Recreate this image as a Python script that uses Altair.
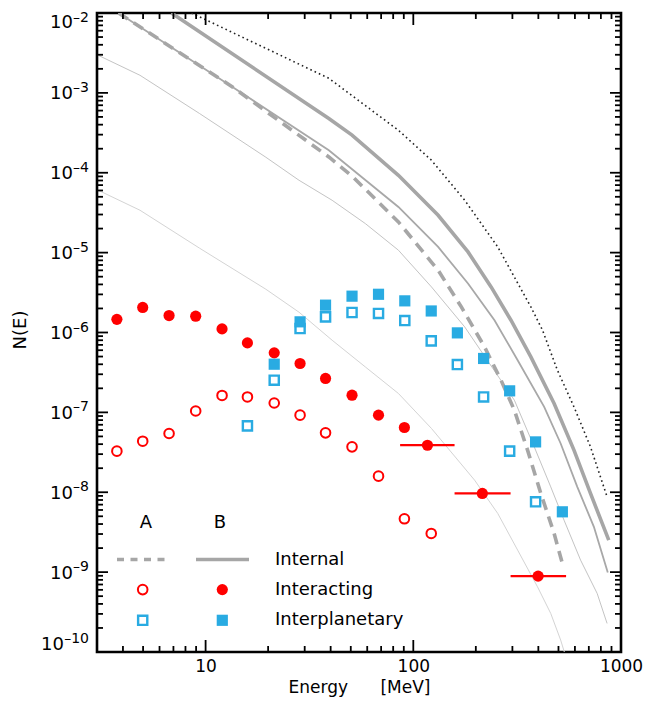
import altair as alt
import pandas as pd

# ---------------- values ----------------
# model curves (energy in MeV, N(E))
dot_E = [8.55, 39.2, 84.8, 122.3, 176.8, 255.0, 368.1, 418.8, 494.0, 593.7, 713.1, 857.0]
dot_N = [1.0e-2, 1.523e-3, 3.403e-4, 1.434e-4, 4.525e-5, 1.178e-5, 2.091e-6, 1.07e-6,
         3.375e-7, 1.172e-7, 3.701e-8, 8.758e-9]

intB_E = [6.85, 39.2, 50.7, 84.8, 131.7, 183.4, 236.9, 295.3, 368.1, 476.4, 593.7, 713.1, 873.2]
intB_N = [1.0e-2, 4.769e-4, 2.96e-4, 9.30e-5, 2.938e-5, 1.021e-5, 3.721e-6, 1.425e-6,
          4.951e-7, 1.293e-7, 3.364e-8, 9.66e-9, 2.515e-9]

med_E = [3.81, 13.47, 39.2, 84.8, 131.7, 183.4, 246.0, 318.0, 426.7, 512.3, 616.0, 740.4, 863.7]
med_N = [1.0e-2, 1.186e-3, 1.912e-4, 3.733e-5, 1.178e-5, 4.105e-6, 1.425e-6, 4.499e-7,
         1.172e-7, 4.08e-8, 1.168e-8, 3.69e-9, 9.91e-10]

intA_E = [3.81, 13.47, 39.2, 50.7, 84.8, 131.7, 170.3, 220.3, 264.5, 306.6, 354.9, 411.1, 476.4, 522.0]
intA_N = [1.0e-2, 1.186e-3, 1.576e-4, 9.1e-5, 2.422e-5, 6.02e-6, 2.091e-6, 6.60e-7,
          2.53e-7, 1.065e-7, 3.364e-8, 9.66e-9, 3.05e-9, 1.285e-9]

thin1_E = [3.04, 4.83, 9.36, 19.51, 28.17, 40.65, 58.73, 84.8, 122.3, 176.8, 306.6, 382.2,
           458.9, 531.8, 638.9, 767.8, 857.0]
thin1_N = [2.955e-3, 1.661e-3, 5.506e-4, 1.563e-4, 8.05e-5, 4.525e-5, 2.313e-5, 1.072e-5,
           3.721e-6, 1.175e-6, 1.421e-7, 3.701e-8, 1.168e-8, 4.475e-9, 1.413e-9, 5.41e-10, 2.28e-10]

thin2_E = [3.04, 4.83, 9.36, 19.51, 28.17, 40.65, 58.73, 84.8, 122.3, 197.3, 255.0, 318.0,
           396.3, 458.9, 512.3, 533.7]
thin2_N = [6.04e-5, 3.394e-5, 1.135e-5, 3.48e-6, 1.795e-6, 8.01e-7, 3.71e-7, 1.724e-7,
           6.29e-8, 1.417e-8, 5.43e-9, 1.885e-9, 6.55e-10, 3.04e-10, 1.41e-10, 9.97e-11]

# interacting (red circles)
red_E = [3.74, 4.98, 6.67, 8.96, 12.0, 15.9, 21.4, 28.5, 37.8, 50.7, 68.0, 90.6]
redB_N = [1.46e-6, 2.06e-6, 1.63e-6, 1.60e-6, 1.11e-6, 7.41e-7, 5.56e-7, 4.09e-7,
          2.66e-7, 1.64e-7, 9.23e-8, 6.47e-8]
redB_bin_E = [117, 215, 399]
redB_bin_N = [3.88e-8, 9.66e-9, 8.91e-10]
redB_bin_lo = [86.4, 158, 294]
redB_bin_hi = [158, 294, 544]

redA_E = [3.74, 4.98, 6.67, 8.96, 12.0, 15.9, 21.4, 28.5, 37.8, 50.7, 68.0, 90.6, 122]
redA_N = [3.27e-8, 4.36e-8, 5.44e-8, 1.04e-7, 1.63e-7, 1.56e-7, 1.31e-7, 9.23e-8,
          5.54e-8, 3.70e-8, 1.59e-8, 4.65e-9, 3.05e-9]

# interplanetary (blue squares)
bluA_E = [15.9, 21.4, 28.5, 37.8, 50.7, 68.0, 91.0, 122, 163, 218, 291, 388]
bluA_N = [6.78e-8, 2.53e-7, 1.12e-6, 1.57e-6, 1.78e-6, 1.73e-6, 1.41e-6, 7.85e-7,
          3.97e-7, 1.56e-7, 3.27e-8, 7.59e-9]
bluB_E = [21.4, 28.5, 37.8, 50.7, 68.0, 91.0, 122, 163, 218, 291, 388, 522]
bluB_N = [4.01e-7, 1.36e-6, 2.20e-6, 2.85e-6, 3.01e-6, 2.49e-6, 1.86e-6, 9.89e-7,
          4.73e-7, 1.86e-7, 4.27e-8, 5.69e-9]

# axes
x_labels = [10, 100, 1000]
x_major = [10, 100]
x_minor = [4, 5, 6, 7, 8, 9, 20, 30, 40, 50, 60, 70, 80, 90,
           200, 300, 400, 500, 600, 700, 800, 900]
y_decades = [1e-10, 1e-9, 1e-8, 1e-7, 1e-6, 1e-5, 1e-4, 1e-3, 1e-2]
y_exponents = ["–10", "–9", "–8", "–7", "–6", "–5", "–4", "–3", "–2"]
y_major = [1e-9, 1e-8, 1e-7, 1e-6, 1e-5, 1e-4, 1e-3]
y_mult = [2, 3, 4, 5, 6, 7, 8, 9]
y_minor = [m * d for d in y_decades[:-1] for m in y_mult]

legend_heads = ["A", "B"]
legend_labels = ["Internal", "Interacting", "Interplanetary"]

# ---------------- chart ----------------
W, H = 524, 639
FONT = "DejaVu Sans"
RED = "#ff0000"
BLUE = "#29abe2"

xscale = alt.Scale(type="log", domain=[3, 1000], nice=False)
yscale = alt.Scale(type="log", domain=[1e-10, 1e-2], nice=False)

xaxis = alt.Axis(values=x_labels, format="d", ticks=False, tickSize=0, domain=False, grid=False,
                 labelFont=FONT, labelFontSize=17, labelColor="black", labelPadding=6,
                 labelFlush=False,
                 title="Energy\u00a0\u00a0\u00a0\u00a0\u00a0\u00a0[MeV]", titleFont=FONT,
                 titleFontSize=17, titleFontWeight="normal", titleColor="black",
                 titleX=W / 2, titleY=35, titleBaseline="middle", titleAlign="center")
yaxis = alt.Axis(values=y_decades, ticks=False, tickSize=0, domain=False, grid=False,
                 labels=False,
                 title="N(E)", titleFont=FONT, titleFontSize=18, titleFontWeight="normal",
                 titleColor="black", titleAngle=270, titleX=-77, titleY=H / 2 - 3,
                 titleBaseline="middle", titleAlign="center")


def X(field="E"):
    return alt.X(f"{field}:Q", scale=xscale, axis=xaxis, title="Energy")


def Y(field="N"):
    return alt.Y(f"{field}:Q", scale=yscale, axis=yaxis, title="N(E)")


def curve(E, N, **style):
    df = pd.DataFrame({"E": E, "N": N})
    return alt.Chart(df).mark_line(clip=True, **style).encode(x=X(), y=Y())


layers = []
layers.append(curve(thin2_E, thin2_N, color="#d4d4d4", strokeWidth=1))
layers.append(curve(thin1_E, thin1_N, color="#c4c4c4", strokeWidth=1))
layers.append(curve(med_E, med_N, color="#a8a8a8", strokeWidth=1.8))
layers.append(curve(intB_E, intB_N, color="#a6a6a6", strokeWidth=3.6))
layers.append(curve(intA_E, intA_N, color="#a6a6a6", strokeWidth=3.6, strokeDash=[11, 7]))
layers.append(curve(dot_E, dot_N, color="#222222", strokeWidth=1.6, strokeDash=[1.6, 3.1]))

# data points
layers.append(alt.Chart(pd.DataFrame({"E": redA_E, "N": redA_N})).mark_point(
    shape="circle", filled=False, color=RED, strokeWidth=2, size=92, opacity=1
).encode(x=X(), y=Y()))
layers.append(alt.Chart(pd.DataFrame({"E": redB_bin_E, "N": redB_bin_N,
                                      "lo": redB_bin_lo, "hi": redB_bin_hi})).mark_rule(
    color=RED, strokeWidth=2.2
).encode(x=alt.X("lo:Q", scale=xscale, axis=xaxis, title="Energy"), x2="hi:Q", y=Y()))
layers.append(alt.Chart(pd.DataFrame({"E": red_E + redB_bin_E, "N": redB_N + redB_bin_N})).mark_circle(
    color=RED, size=125, opacity=1
).encode(x=X(), y=Y()))
layers.append(alt.Chart(pd.DataFrame({"E": bluA_E, "N": bluA_N})).mark_point(
    shape="square", filled=False, color=BLUE, strokeWidth=2.4, size=84, opacity=1
).encode(x=X(), y=Y()))
layers.append(alt.Chart(pd.DataFrame({"E": bluB_E, "N": bluB_N})).mark_square(
    color=BLUE, size=125, opacity=1
).encode(x=X(), y=Y()))


# inward ticks on all four sides
def yticks(vals, length):
    df = pd.DataFrame({"N": vals})
    left = alt.Chart(df).mark_rule(color="black", strokeWidth=1.8).encode(
        y=Y(), x=alt.value(0), x2=alt.value(length))
    right = alt.Chart(df).mark_rule(color="black", strokeWidth=1.8).encode(
        y=Y(), x=alt.value(W), x2=alt.value(W - length))
    return [left, right]


def xticks(vals, length):
    df = pd.DataFrame({"E": vals})
    bottom = alt.Chart(df).mark_rule(color="black", strokeWidth=1.8).encode(
        x=X(), y=alt.value(H), y2=alt.value(H - length))
    top = alt.Chart(df).mark_rule(color="black", strokeWidth=1.8).encode(
        x=X(), y=alt.value(0), y2=alt.value(length))
    return [bottom, top]


layers += yticks(y_minor, 6) + yticks(y_major, 11) + xticks(x_minor, 6) + xticks(x_major, 12)

# y tick labels as 10 with a raised exponent
ylab = pd.DataFrame({"N": y_decades, "exp": y_exponents})
groups = [
    (ylab.iloc[1:8], -24, 6.5, -1),     # middle decades
    (ylab.iloc[8:9], -24, 14.5, 8.5),   # top label, kept inside
    (ylab.iloc[0:1], -33, -1.7, -9),    # bottom label, kept inside
]
for df, xb, dyb, dye in groups:
    layers.append(alt.Chart(df).mark_text(
        text="10", font=FONT, fontSize=18, color="black", align="right",
        baseline="alphabetic", dy=dyb
    ).encode(y=Y(), x=alt.value(xb)))
    layers.append(alt.Chart(df).mark_text(
        font=FONT, fontSize=14, color="black", align="right",
        baseline="alphabetic", dy=dye
    ).encode(y=Y(), x=alt.value(-8), text="exp:N"))

# legend drawn inside the plot
one = pd.DataFrame({"k": [0]})
for i, head in enumerate(legend_heads):
    layers.append(alt.Chart(pd.DataFrame({"t": [head]})).mark_text(
        font=FONT, fontSize=18, color="black", align="center", baseline="middle"
    ).encode(text="t:N", x=alt.value([49, 123][i]), y=alt.value(510)))
for i, lab in enumerate(legend_labels):
    layers.append(alt.Chart(pd.DataFrame({"t": [lab]})).mark_text(
        font=FONT, fontSize=18, color="black", align="left", baseline="middle"
    ).encode(text="t:N", x=alt.value(178), y=alt.value([547, 577, 607][i])))

layers.append(alt.Chart(one).mark_rule(color="#a6a6a6", strokeWidth=3.6, strokeDash=[7, 6.5]).encode(
    x=alt.value(20), x2=alt.value(68), y=alt.value(546.5)))
layers.append(alt.Chart(one).mark_rule(color="#a6a6a6", strokeWidth=3.6).encode(
    x=alt.value(99), x2=alt.value(152), y=alt.value(546.5)))
layers.append(alt.Chart(one).mark_point(shape="circle", filled=False, color=RED, strokeWidth=2,
                                        size=92, opacity=1).encode(
    x=alt.value(45.7), y=alt.value(576.6)))
layers.append(alt.Chart(one).mark_circle(color=RED, size=125, opacity=1).encode(
    x=alt.value(125.3), y=alt.value(576.6)))
layers.append(alt.Chart(one).mark_point(shape="square", filled=False, color=BLUE, strokeWidth=2.4,
                                        size=84, opacity=1).encode(
    x=alt.value(45.7), y=alt.value(607.3)))
layers.append(alt.Chart(one).mark_square(color=BLUE, size=125, opacity=1).encode(
    x=alt.value(125.3), y=alt.value(607.3)))

chart = alt.layer(*layers).properties(
    width=W, height=H,
    autosize=alt.AutoSizeParams(type="none"),
    padding={"left": 89, "top": 5, "right": 22, "bottom": 46},
    background="white",
).configure_view(stroke="black", strokeWidth=2.6)

chart.save("out.html", embed_options={"renderer": "svg", "actions": False})
